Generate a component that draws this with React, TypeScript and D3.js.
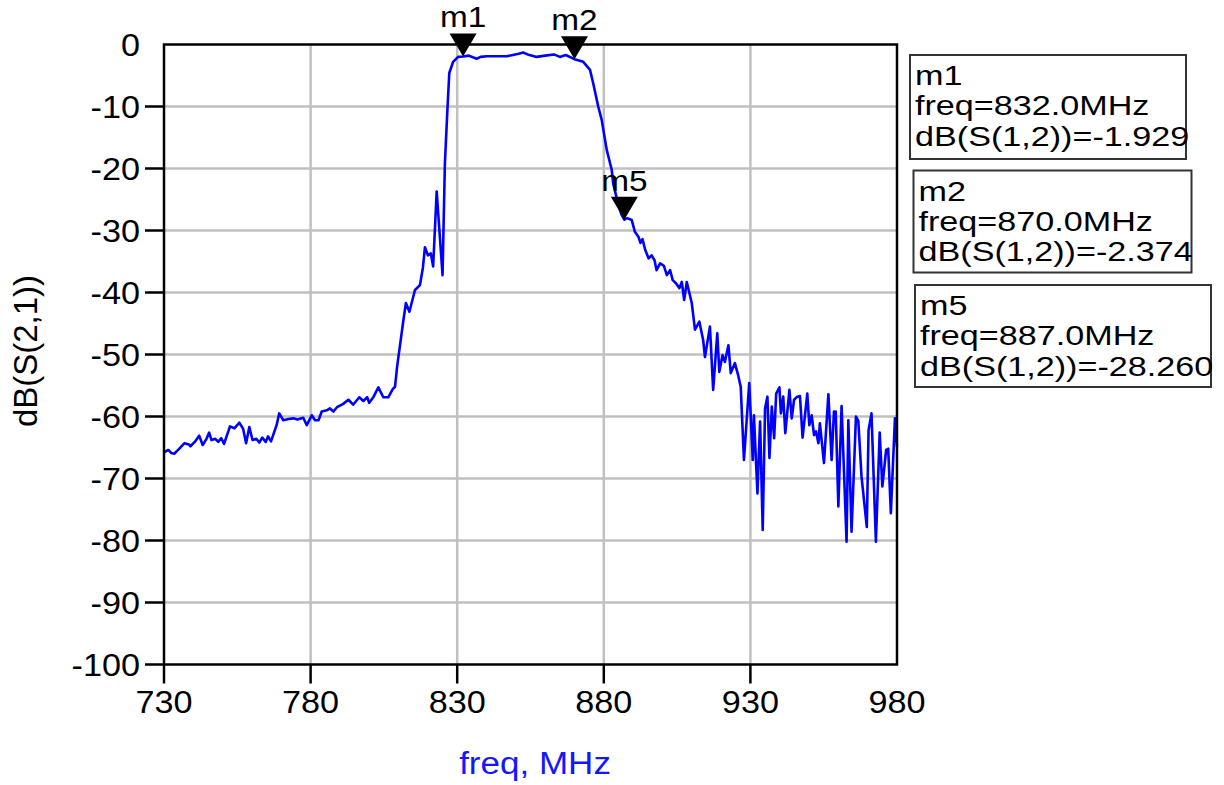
import * as d3 from 'd3';
import { useEffect } from 'react';

// trace: frequency (MHz) and dB(S(2,1))
const freqs = [
  730.0, 731.5, 732.5, 733.5, 735.0, 737.0, 738.5, 739.0, 740.5, 742.0,
  743.2, 744.5, 745.4, 746.2, 747.5, 748.5, 749.5, 750.5, 752.5, 754.0,
  755.7, 757.0, 758.0, 759.1, 760.2, 761.5, 762.5, 763.5, 764.7, 765.5,
  766.5, 768.4, 769.3, 770.7, 772.5, 774.1, 775.5, 777.5, 778.7, 780.4,
  781.5, 782.7, 783.8, 785.5, 786.6, 787.8, 789.0, 791.0, 792.9, 794.5,
  796.6, 798.0, 799.3, 800.0, 801.5, 803.1, 804.8, 806.5, 808.0, 808.8,
  809.5, 810.5, 811.5, 812.5, 813.7, 815.6, 817.3, 818.3, 819.0, 820.0,
  821.0, 821.8, 823.0, 825.0, 825.8, 826.6, 827.3, 828.6, 830.3, 832.0,
  834.0, 836.6, 838.0, 840.0, 843.0, 846.9, 849.0, 851.0, 852.5, 854.0,
  857.1, 860.0, 863.0, 865.0, 867.0, 870.0, 873.0, 875.3, 876.4, 878.1,
  879.3, 881.0, 882.7, 883.2, 884.5, 886.0, 887.0, 888.0, 889.5, 890.6,
  891.8, 892.5, 893.2, 894.1, 895.3, 896.3, 897.3, 898.0, 899.2, 900.5,
  901.5, 902.6, 903.5, 904.6, 905.8, 906.6, 907.4, 908.3, 910.0, 911.1,
  912.6, 913.9, 914.5, 916.2, 917.3, 918.7, 919.4, 920.5, 921.3, 922.5,
  923.3, 924.7, 925.8, 926.7, 927.8, 929.6, 930.8, 931.2, 932.4, 933.3,
  934.2, 935.0, 935.8, 936.5, 937.3, 938.1, 938.8, 939.9, 940.4, 941.2,
  941.9, 943.3, 944.1, 944.9, 946.0, 946.9, 947.8, 949.4, 950.1, 950.9,
  951.7, 952.4, 953.2, 953.7, 955.1, 956.6, 957.7, 958.5, 959.1, 960.0,
  961.1, 962.8, 963.4, 964.5, 966.0, 966.8, 967.9, 969.7, 970.3, 971.3,
  972.8, 974.1, 975.0, 976.3, 977.0, 977.9, 979.3, 980.0,
];
const s21 = [
  -65.8, -65.4, -65.9, -66.0, -65.3, -64.3, -64.5, -64.8, -64.1, -63.1,
  -64.6, -63.6, -62.6, -63.8, -63.6, -64.1, -63.5, -64.4, -61.6, -61.9,
  -61.0, -62.0, -64.3, -61.7, -63.8, -63.6, -64.2, -63.4, -64.1, -63.2,
  -64.0, -61.4, -59.5, -60.6, -60.4, -60.3, -60.5, -60.2, -61.4, -59.8,
  -60.6, -60.6, -59.2, -59.0, -58.7, -59.2, -58.5, -58.0, -57.3, -58.1,
  -56.9, -57.5, -56.9, -57.8, -56.8, -55.3, -56.9, -56.9, -55.6, -55.2,
  -52.0, -48.5, -45.0, -41.7, -43.1, -39.6, -38.8, -36.0, -32.7, -34.0,
  -33.7, -35.8, -23.7, -37.2, -19.2, -11.1, -4.6, -2.8, -2.0, -1.93,
  -1.8, -2.3, -2.0, -1.9, -1.9, -1.9, -1.7, -1.5, -1.3, -1.6,
  -2.0, -1.8, -1.6, -2.0, -1.7, -2.37, -2.8, -4.1, -6.3, -10.0,
  -12.2, -17.0, -20.2, -22.4, -25.0, -27.4, -28.26, -28.0, -28.3, -30.2,
  -31.0, -32.0, -31.4, -33.1, -34.5, -34.0, -34.8, -36.4, -35.3, -35.7,
  -37.2, -36.4, -38.0, -38.5, -39.3, -38.3, -41.2, -38.3, -41.7, -46.0,
  -44.7, -47.7, -50.4, -45.5, -55.7, -46.6, -52.8, -50.1, -51.2, -48.5,
  -53.0, -51.4, -53.3, -55.2, -67.0, -54.6, -67.0, -59.8, -72.4, -60.8,
  -78.3, -58.7, -56.8, -66.7, -58.4, -63.5, -56.3, -55.3, -59.5, -56.8,
  -62.7, -55.7, -60.3, -57.3, -56.8, -56.7, -63.4, -56.3, -61.4, -59.8,
  -63.0, -62.4, -64.3, -61.1, -67.5, -56.4, -67.0, -59.2, -59.2, -74.5,
  -58.3, -80.2, -60.6, -78.6, -60.0, -60.7, -69.7, -77.8, -62.2, -59.5,
  -80.2, -62.6, -71.3, -65.4, -65.2, -75.6, -60.3, -64.9,
];

const xTicks = [730, 780, 830, 880, 930, 980];
const yTicks = [0, -10, -20, -30, -40, -50, -60, -70, -80, -90, -100];

const markerNames = ['m1', 'm2', 'm5'];
const markerFreqs = [832.0, 870.0, 887.0];
const markerValues = [-1.929, -2.374, -28.26];

const W = 1224;
const H = 785;
const left = 164;
const right = 897;
const top = 44.5;
const bottom = 664.5;
const font = 'Liberation Sans, Arial, sans-serif';

export default function App() {
  useEffect(() => {
    document.body.style.margin = '0';
  }, []);

  const x = d3.scaleLinear([730, 980], [left, right]);
  const y = d3.scaleLinear([-100, 0], [bottom, top]);
  const points = freqs.map((f, i) => [f, s21[i]] as [number, number]);
  const line = d3
    .line<[number, number]>()
    .x((d) => x(d[0]))
    .y((d) => y(d[1]));

  const boxes = [
    { x0: 910, y0: 55, w: 276, h: 104 },
    { x0: 913.5, y0: 170.5, w: 278, h: 102 },
    { x0: 915, y0: 285, w: 296, h: 102 },
  ];

  return (
    <svg width={W} height={H} style={{ display: 'block', background: '#fff' }}>
      {/* grid */}
      <g stroke='#c0c0c0' strokeWidth={2.5}>
        {xTicks.slice(1, -1).map((t) => (
          <line key={t} x1={x(t)} x2={x(t)} y1={top} y2={bottom} />
        ))}
        {yTicks.slice(1, -1).map((t) => (
          <line key={t} x1={left} x2={right} y1={y(t)} y2={y(t)} />
        ))}
      </g>
      {/* ticks */}
      <g stroke='#000' strokeWidth={2.5}>
        {xTicks.slice(0, -1).map((t) => (
          <line key={t} x1={x(t)} x2={x(t)} y1={bottom} y2={bottom + 19} />
        ))}
        {yTicks.slice(1).map((t) => (
          <line key={t} x1={left - 19} x2={left} y1={y(t)} y2={y(t)} />
        ))}
      </g>
      <path d={line(points) ?? ''} fill='none' stroke='#0000ff' strokeWidth={2.6} strokeLinejoin='round' />
      <rect x={left} y={top} width={right - left} height={bottom - top} fill='none' stroke='#000' strokeWidth={2.5} />
      {/* tick labels */}
      <g fontFamily={font} fontSize={32} fill='#000'>
        {xTicks.map((t) => (
          <text key={t} transform={`translate(${x(t)},713) scale(1.07,1)`} textAnchor='middle'>
            {t}
          </text>
        ))}
        {yTicks.map((t) => (
          <text key={t} transform={`translate(140,${y(t) + 11.5}) scale(1.07,1)`} textAnchor='end'>
            {t}
          </text>
        ))}
      </g>
      {/* axis titles */}
      <text transform='translate(37,351) rotate(-90)' textAnchor='middle' fontFamily={font} fontSize={33} fill='#000'>
        dB(S(2,1))
      </text>
      <text transform='translate(535,774) scale(1.13,1)' textAnchor='middle' fontFamily={font} fontSize={31} fill='#1515ff'>
        freq, MHz
      </text>
      {/* markers */}
      {markerNames.map((m, i) => {
        const mx = x(markerFreqs[i]);
        const my = y(markerValues[i]);
        return (
          <g key={m}>
            <path d={`M${mx},${my} L${mx - 13.5},${my - 23} L${mx + 13.5},${my - 23} Z`} fill='#000' />
            <text transform={`translate(${mx},${my - 29}) scale(1.15,1)`} textAnchor='middle' fontFamily={font} fontSize={29} fill='#000'>
              {m}
            </text>
          </g>
        );
      })}
      {/* marker readouts */}
      {markerNames.map((m, i) => {
        const b = boxes[i];
        const lines = [m, `freq=${markerFreqs[i].toFixed(1)}MHz`, `dB(S(1,2))=${markerValues[i].toFixed(3)}`];
        return (
          <g key={m}>
            <rect x={b.x0} y={b.y0} width={b.w} height={b.h} fill='#fff' stroke='#333' strokeWidth={2} />
            {lines.map((s, j) => (
              <text key={j} transform={`translate(${b.x0 + 5},${b.y0 + 30 + j * 30.3}) scale(1.22,1)`} fontFamily={font} fontSize={28} fill='#000'>
                {s}
              </text>
            ))}
          </g>
        );
      })}
    </svg>
  );
}
